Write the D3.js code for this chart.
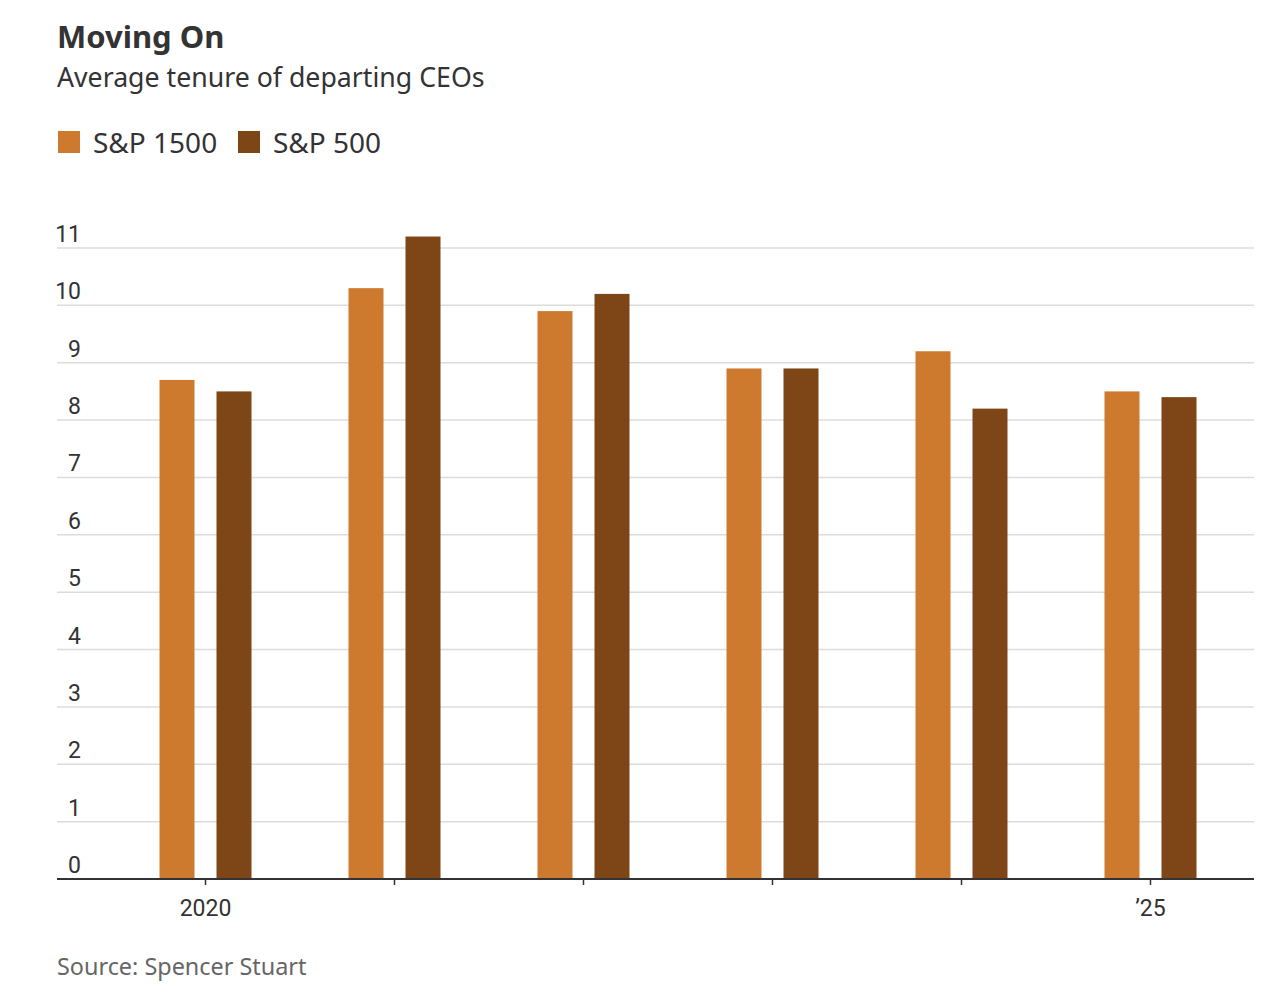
<!DOCTYPE html>
<html>
<head>
<meta charset="utf-8">
<script src="https://cdn.jsdelivr.net/npm/d3@7"></script>
<style>
  body { margin: 0; background: #fff; }
  svg { display: block; }
</style>
</head>
<body>
<div id="chart"></div>
<script>
// data
const years = [2020, 2021, 2022, 2023, 2024, 2025]
const seriesNames = ["S&P 1500", "S&P 500"]
const sp1500 = [8.7, 10.3, 9.9, 8.9, 9.2, 8.5]
const sp500 = [8.5, 11.2, 10.2, 8.9, 8.2, 8.4]
const yTicks = [0, 1, 2, 3, 4, 5, 6, 7, 8, 9, 10, 11]
const xTickLabels = { 2020: "2020", 2025: "\u201925" }
const colors = ["#cd7a2e", "#7e4517"]

const W = 1280, H = 992
const LEFT = 57, RIGHT = 1254
const TOP = 248, BOTTOM = 879

const svg = d3.select("#chart").append("svg")
    .attr("width", W)
    .attr("height", H)

const sans = "'Noto Sans', 'Open Sans', sans-serif"
const narrow = "'Liberation Sans Narrow', 'Roboto', sans-serif"

// title block
svg.append("text")
    .attr("x", LEFT).attr("y", 48)
    .attr("font-family", sans).attr("font-weight", 700)
    .attr("font-size", 31).attr("fill", "#333")
    .text("Moving On")

svg.append("text")
    .attr("x", LEFT).attr("y", 87)
    .attr("font-family", sans)
    .attr("font-size", 26.7).attr("fill", "#333")
    .text("Average tenure of departing CEOs")

// legend
const legendX = [58, 238]
seriesNames.forEach((name, i) => {
    svg.append("rect")
        .attr("x", legendX[i]).attr("y", 131)
        .attr("width", 22).attr("height", 22)
        .attr("fill", colors[i])
    svg.append("text")
        .attr("x", legendX[i] + 35).attr("y", 153)
        .attr("font-family", sans)
        .attr("font-size", 28).attr("fill", "#333")
        .text(name)
})

// scales
const y = d3.scaleLinear()
    .domain([0, 11])
    .range([BOTTOM, TOP])

const x0 = d3.scaleBand()
    .domain(years)
    .range([111, 1245])

const x1 = d3.scaleBand()
    .domain(seriesNames)
    .range([-46, 46])
    .paddingInner(22 / 57)

// gridlines + y labels (right aligned)
const grid = svg.append("g")
grid.selectAll("line")
    .data(yTicks.filter(d => d > 0))
    .enter().append("line")
    .attr("x1", LEFT).attr("x2", RIGHT)
    .attr("y1", d => y(d)).attr("y2", d => y(d))
    .attr("stroke", "#dcdcdc").attr("stroke-width", 1.5)

grid.selectAll("text")
    .data(yTicks)
    .enter().append("text")
    .attr("x", 81).attr("y", d => y(d) - 6)
    .attr("text-anchor", "end")
    .attr("font-family", narrow)
    .attr("font-size", 23).attr("fill", "#333")
    .text(d => d)

// bars
const rows = years.map((yr, i) => ({ year: yr, values: [sp1500[i], sp500[i]] }))

const groups = svg.selectAll("g.year")
    .data(rows)
    .enter().append("g")
    .attr("class", "year")
    .attr("transform", d => `translate(${x0(d.year) + x0.bandwidth() / 2},0)`)

groups.selectAll("rect")
    .data(d => d.values.map((v, i) => ({ key: seriesNames[i], value: v, i: i })))
    .enter().append("rect")
    .attr("x", d => x1(d.key))
    .attr("width", x1.bandwidth())
    .attr("y", d => y(d.value))
    .attr("height", d => y(0) - y(d.value))
    .attr("fill", d => colors[d.i])

// x axis
const xAxisCall = d3.axisBottom(x0)
    .tickSize(6)
    .tickFormat(d => xTickLabels[d] || "")

const xAxisGroup = svg.append("g")
    .attr("transform", `translate(0,${BOTTOM})`)
    .call(xAxisCall)

xAxisGroup.select(".domain").remove()
xAxisGroup.selectAll(".tick line").attr("stroke", "#333").attr("stroke-width", 1.5)
xAxisGroup.selectAll(".tick text")
    .attr("y", 21)
    .attr("font-family", narrow)
    .attr("font-size", 23).attr("fill", "#333")

svg.append("line")
    .attr("x1", LEFT).attr("x2", RIGHT)
    .attr("y1", BOTTOM).attr("y2", BOTTOM)
    .attr("stroke", "#333").attr("stroke-width", 2)

// source
svg.append("text")
    .attr("x", LEFT).attr("y", 975)
    .attr("font-family", sans)
    .attr("font-size", 23.4).attr("fill", "#666")
    .text("Source: Spencer Stuart")
</script>
</body>
</html>
